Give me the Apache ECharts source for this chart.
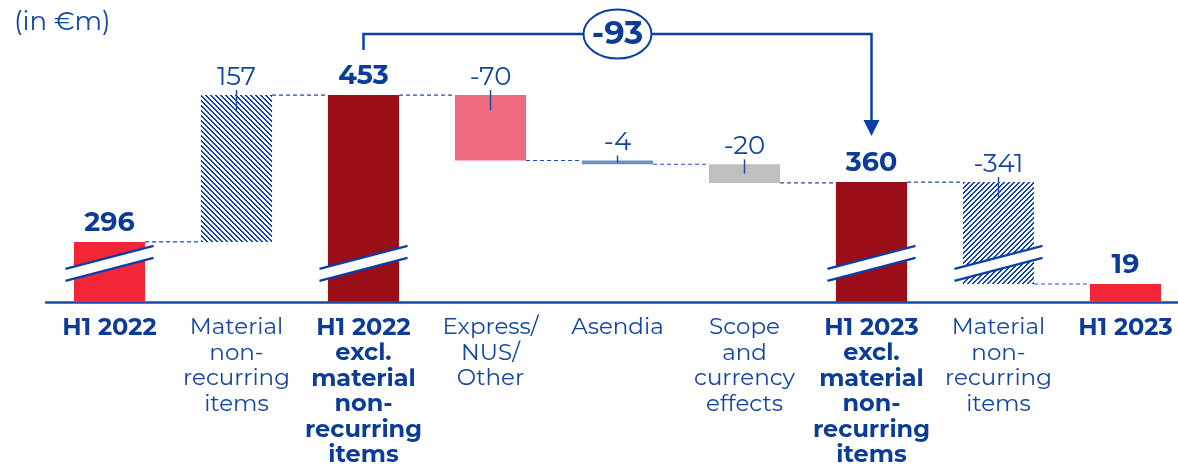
<!DOCTYPE html>
<html>
<head>
<meta charset="utf-8">
<script src="https://cdn.jsdelivr.net/npm/echarts@6/dist/echarts.min.js"></script>
<style>
  html, body { margin: 0; padding: 0; background: #ffffff; overflow: hidden; width: 1178px; height: 467px; }
  #chart { width: 1190px; height: 467px; }
</style>
</head>
<body>
<div id="chart"></div>
<script>
// ---- data ----
const categories = [
  'H1 2022',
  'Material\nnon-\nrecurring\nitems',
  'H1 2022\nexcl.\nmaterial\nnon-\nrecurring\nitems',
  'Express/\nNUS/\nOther',
  'Asendia',
  'Scope\nand\ncurrency\neffects',
  'H1 2023\nexcl.\nmaterial\nnon-\nrecurring\nitems',
  'Material\nnon-\nrecurring\nitems',
  'H1 2023'
];
const values = [296, 157, 453, -70, -4, -20, 360, -341, 19];
const kinds = ['total', 'hatch', 'total', 'delta', 'delta', 'delta', 'total', 'hatch', 'total'];
const valueLabels = ['296', '157', '453', '-70', '-4', '-20', '360', '-341', '19'];
const brokenBars = [0, 2, 6, 7];
const bracketFrom = 2, bracketTo = 6;
const unitTitle = '(in €m)';

// ---- styling ----
const BLUE = '#1446a0';
const DARK_BLUE = '#0b3d98';
const barColors = ['#f22637', null, '#9b0d17', '#ef6c80', '#7190c0', '#bfbfbf', '#9b0d17', null, '#f22637'];
const FONT = '"Montserrat", "Open Sans", sans-serif';

// axis break: values above the break are shown shifted down
const BREAK_SHIFT = 232;
const BREAK_LIMIT = 100;
function disp(v) { return v > BREAK_LIMIT ? v - BREAK_SHIFT : v; }

// waterfall ranges
const lows = [], highs = [], ends = [];
let run = 0;
values.forEach((v, i) => {
  if (kinds[i] === 'total') { lows.push(disp(0)); highs.push(disp(v)); run = v; }
  else {
    const a = run, b = run + v;
    lows.push(disp(Math.min(a, b))); highs.push(disp(Math.max(a, b)));
    run = b;
  }
  ends.push(disp(run));
});
const baseData = lows;
const visData = highs.map((h, i) => ({
  value: h - lows[i],
  itemStyle: { color: barColors[i] || makeHatch(i === 1 ? 'back' : 'fwd') }
}));

function makeHatch(dir) {
  const c = document.createElement('canvas');
  const n = 5;
  c.width = n; c.height = n;
  const ctx = c.getContext('2d');
  ctx.fillStyle = '#0a3fb0';
  for (let x = 0; x < n; x++) for (let y = 0; y < n; y++) {
    const k = dir === 'back' ? ((x - y) % n + n) % n : ((x + y) % n);
    if (k === 0 || k === 1) ctx.fillRect(x, y, 1, 1);
  }
  return { image: c, repeat: 'repeat' };
}

const connectors = [];
for (let i = 0; i < values.length - 1; i++) connectors.push([i, ends[i]]);

const chart = echarts.init(document.getElementById('chart'), null, { renderer: 'canvas' });

const option = {
  animation: false,
  backgroundColor: '#ffffff',
  title: {
    text: unitTitle, left: 9, top: 4,
    textStyle: { color: BLUE, fontFamily: FONT, fontSize: 26, fontWeight: 'normal' }
  },
  grid: { left: 46, right: 1, top: 30.5, bottom: 159 },
  xAxis: {
    type: 'category',
    data: categories,
    axisLine: { lineStyle: { color: '#1a4bab', width: 2.5 } },
    axisTick: { show: false },
    axisLabel: {
      interval: 0, margin: 13,
      formatter: (val, idx) => {
        const tag = kinds[idx] === 'total' ? 'b' : 'r';
        return val.split('\n').map(s => '{' + tag + '|' + s + '}').join('\n');
      },
      rich: {
        b: { color: DARK_BLUE, fontFamily: FONT, fontSize: 24, fontWeight: 'bold', lineHeight: 25.5 },
        r: { color: BLUE, fontFamily: FONT, fontSize: 23, fontWeight: 'normal', lineHeight: 25.5 }
      }
    }
  },
  yAxis: {
    type: 'value', min: 0, max: 290,
    show: false, splitLine: { show: false }
  },
  series: [
    {
      type: 'bar', stack: 'w', barWidth: '56%', silent: true,
      itemStyle: { color: 'transparent' },
      data: baseData
    },
    {
      type: 'bar', stack: 'w', barWidth: '56%', z: 2,
      data: visData,
      label: {
        show: true, position: 'top', distance: 5,
        formatter: p => (kinds[p.dataIndex] === 'total' ? '{b|' : '{r|') + valueLabels[p.dataIndex] + '}',
        rich: {
          b: { color: DARK_BLUE, fontFamily: FONT, fontSize: 27, fontWeight: 'bold' },
          r: { color: BLUE, fontFamily: FONT, fontSize: 26, fontWeight: 'normal' }
        }
      }
    },
    // dashed connectors
    {
      type: 'custom', z: 1, silent: true,
      data: connectors,
      renderItem: (params, api) => {
        const i = api.value(0), v = api.value(1);
        const w = api.size([1, 0])[0] * 0.56 / 2;
        const p1 = api.coord([i, v]), p2 = api.coord([i + 1, v]);
        return {
          type: 'line',
          shape: { x1: p1[0] + w, y1: p1[1], x2: p2[0] - w, y2: p2[1] },
          style: { stroke: '#1a4bab', lineWidth: 1.2, lineDash: [4, 3] }
        };
      }
    },
    // ticks for delta labels
    {
      type: 'custom', z: 5, silent: true,
      data: values.map((v, i) => [i, highs[i], lows[i]]).filter((d, i) => kinds[i] !== 'total'),
      renderItem: (params, api) => {
        const i = api.value(0);
        const top = api.coord([i, api.value(1)]);
        const bot = api.coord([i, api.value(2)]);
        const h = bot[1] - top[1];
        return {
          type: 'line',
          shape: { x1: top[0], y1: top[1] - 5, x2: top[0], y2: top[1] + Math.min(15, h / 2) },
          style: { stroke: '#1a4bab', lineWidth: 1.5 }
        };
      }
    },
    // axis break marks
    {
      type: 'custom', z: 6, silent: true,
      data: brokenBars.map(i => [i, 41]),
      renderItem: (params, api) => {
        const c = api.coord([api.value(0), api.value(1)]);
        const hw = api.size([1, 0])[0] * 0.3466;
        const slope = 11.5, gap = 6;
        const xl = c[0] - hw, xr = c[0] + hw;
        return {
          type: 'group',
          children: [
            { type: 'polygon', shape: { points: [[xl, c[1] + slope - gap], [xr, c[1] - slope - gap], [xr, c[1] - slope + gap], [xl, c[1] + slope + gap]] },
              style: { fill: '#ffffff' } },
            { type: 'line', shape: { x1: xl, y1: c[1] + slope - gap, x2: xr, y2: c[1] - slope - gap }, style: { stroke: '#0b3fa8', lineWidth: 2.2 } },
            { type: 'line', shape: { x1: xl, y1: c[1] + slope + gap, x2: xr, y2: c[1] - slope + gap }, style: { stroke: '#0b3fa8', lineWidth: 2.2 } }
          ]
        };
      }
    },
    // bracket with difference
    {
      type: 'custom', z: 7, silent: true,
      data: [[bracketFrom, highs[bracketFrom], bracketTo, highs[bracketTo]]],
      renderItem: (params, api) => {
        const a = api.coord([api.value(0), api.value(1)]);
        const b = api.coord([api.value(2), api.value(3)]);
        const legBottom = a[1] - 45;
        const yTop = legBottom - 16;
        const tip = b[1] - 46;
        const mx = (a[0] + b[0]) / 2;
        const diff = values[bracketTo] - values[bracketFrom];
        const col = '#0b3fa8';
        return {
          type: 'group',
          children: [
            { type: 'polyline', shape: { points: [[a[0], legBottom], [a[0], yTop], [b[0], yTop], [b[0], tip - 14]] },
              style: { stroke: col, lineWidth: 2.5, fill: null } },
            { type: 'polygon', shape: { points: [[b[0] - 8, tip - 16], [b[0] + 8, tip - 16], [b[0], tip]] }, style: { fill: col } },
            { type: 'ellipse', shape: { cx: mx, cy: yTop, rx: 34, ry: 24.5 }, style: { fill: '#ffffff', stroke: col, lineWidth: 2 } },
            { type: 'text', x: mx, y: yTop + 1, style: { text: String(diff), fill: DARK_BLUE, font: 'bold 32px ' + FONT, align: 'center', verticalAlign: 'middle' } }
          ]
        };
      }
    }
  ]
};
chart.setOption(option);
</script>
</body>
</html>
